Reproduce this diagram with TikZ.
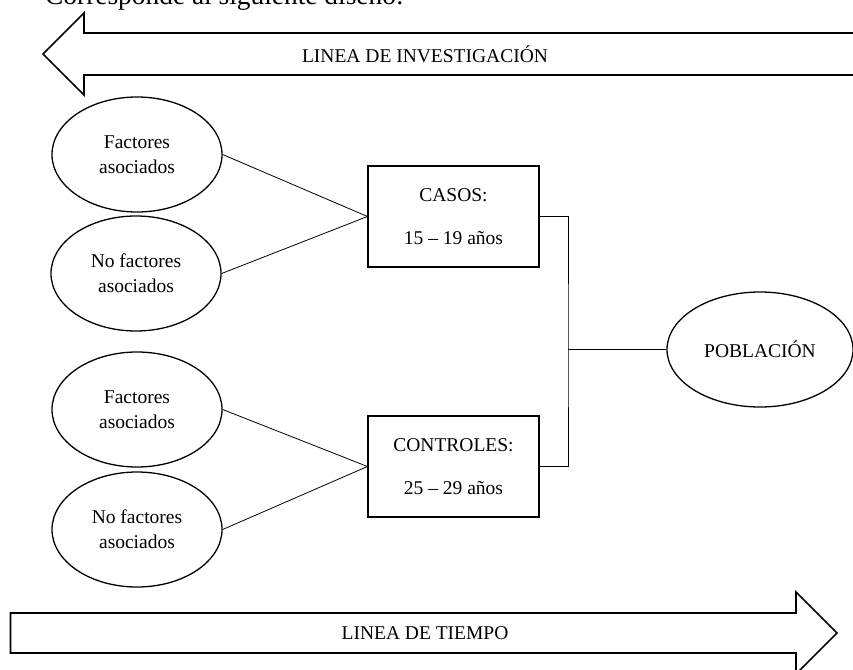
\documentclass[tikz,border=0pt]{standalone}
\usepackage{fontspec}
\setmainfont{Liberation Serif}
\usetikzlibrary{shapes.geometric}

\begin{document}
\begin{tikzpicture}[x=1pt,y=-1pt,line join=miter,
  factor/.style={draw,ellipse,line width=1.3pt,minimum width=170pt,minimum height=115pt,inner sep=0pt,align=center},
  grupo/.style={draw,rectangle,line width=1.1pt,minimum width=171pt,minimum height=101pt,inner sep=0pt,align=center},
  enlace/.style={line width=0.8pt},
  flecha/.style={line width=1.7pt},
  texto/.style={font=\fontsize{19.5}{25}\selectfont}]
  \useasboundingbox (0,0) rectangle (853,669);
%%
  % Text: heading, cut at the top
  \node[anchor=base west,inner sep=0pt,font=\fontsize{27.4}{32}\selectfont] (titulo) at (45,5) {Corresponde al siguiente diseño:};
  % Arrow: linea de investigacion
  \draw[flecha] (870,33) -- (84,33) -- (84,13) -- (43,54) -- (84,95) -- (84,75) -- (870,75);
  \node[texto] (investigacion) at (425,54) {LINEA DE INVESTIGACIÓN};
  % Arrow: linea de tiempo
  \draw[flecha] (10.5,613) -- (796,613) -- (796,592) -- (837,633) -- (796,674) -- (796,653) -- (10.5,653) -- cycle;
  \node[texto] (tiempo) at (425,633) {LINEA DE TIEMPO};
  % Node: factores, casos
  \node[factor,texto] (fa1) at (137,154.5) {Factores\\asociados};
  % Node: no factores, casos
  \node[factor,texto] (nf1) at (136,273.5) {No factores\\asociados};
  % Node: factores, controles
  \node[factor,texto] (fa2) at (137,409.5) {Factores\\asociados};
  % Node: no factores, controles
  \node[factor,texto] (nf2) at (137,529.5) {No factores\\asociados};
  % Node: casos
  \node[grupo,texto] (casos) at (453.5,216.5) {CASOS:\\[18pt]15 – 19 años};
  % Node: controles
  \node[grupo,texto] (controles) at (453.5,466.5) {CONTROLES:\\[18pt]25 – 29 años};
  % Node: poblacion
  \node[factor,texto,minimum width=186pt] (poblacion) at (760,349.5) {POBLACIÓN};
  % Edge: factores -> casos / controles
  \draw[enlace] (fa1.east) -- (casos.west);
  \draw[enlace] (nf1.east) -- (casos.west);
  \draw[enlace] (fa2.east) -- (controles.west);
  \draw[enlace] (nf2.east) -- (controles.west);
  % Edge: casos, controles -> poblacion
  \coordinate (union) at (568,349.5);
  \draw[enlace] (casos.east) -| (union) |- (controles.east);
  \draw[enlace] (union) -- (poblacion.west);
%
\end{tikzpicture}
\end{document}
